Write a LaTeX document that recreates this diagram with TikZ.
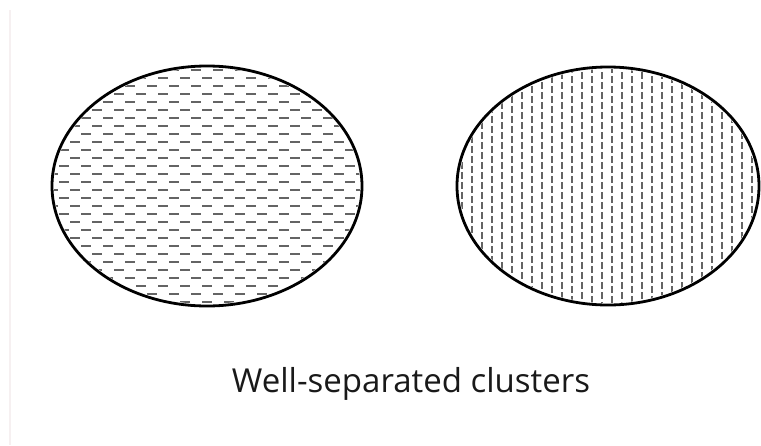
\documentclass[tikz,border=0pt]{standalone}
\usepackage{fontspec}
\setmainfont{Open Sans}
\usepackage{tikz}

\definecolor{rimgray}{RGB}{246,240,241}
\definecolor{hatchgray}{RGB}{100,100,100}
\definecolor{captioncol}{RGB}{25,25,25}

\tikzset{
  rim/.style={draw=black, line width=2.8pt},
  rowline/.style={hatchgray, line width=2pt, dash pattern=on 10pt off 12pt},
  colline/.style={hatchgray, line width=2.4pt, dash pattern=on 7pt off 3pt},
  caption/.style={font=\fontsize{33}{40}\selectfont, text=captioncol}
}

\begin{document}
\begin{tikzpicture}[x=1pt, y=-1pt]
  \useasboundingbox (0,0) rectangle (761,445);
  \coordinate (leftc) at (207,186);
  \coordinate (rightc) at (608,186);
  % faint margin line
  \coordinate (topm) at (10,10);
  \coordinate (botm) at (10,445);
  \draw[rimgray, line width=2pt] (topm) -- (botm);

  % left cluster: horizontal dashes
  \begin{scope}
    \clip (leftc) ellipse [x radius=153, y radius=118];
    \foreach \y [count=\i, evaluate=\i as \ph using {mod(\i,2)*11}] in {70,78,...,302}
      \draw[rowline, dash phase=\ph pt] (48,\y) -- (366,\y);
  \end{scope}
  \draw[rim] (leftc) ellipse [x radius=155, y radius=120];

  % right cluster: vertical dashes
  \begin{scope}
    \clip (rightc) ellipse [x radius=149, y radius=117];
    \foreach \x [count=\i, evaluate=\i as \ph using {mod(\i,2)*4}] in {462,472,...,758}
      \draw[colline, dash phase=\ph pt] (\x,66) -- (\x,306);
  \end{scope}
  \draw[rim] (rightc) ellipse [x radius=151, y radius=119];

  \node[caption] (label) at (411,384) {Well-separated clusters};
\end{tikzpicture}
\end{document}
